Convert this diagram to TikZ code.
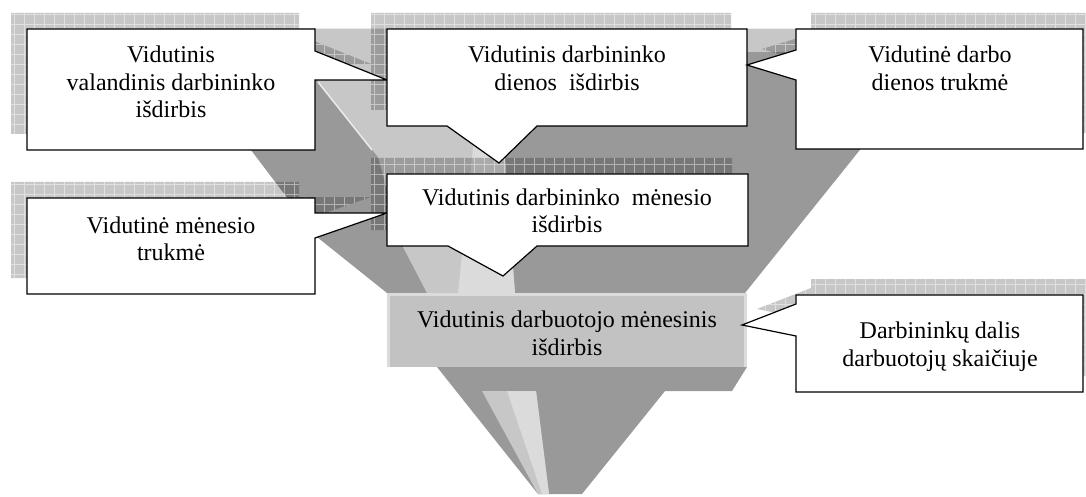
\documentclass[tikz,border=0pt]{standalone}
\usepackage{fontspec}
\setmainfont{Liberation Serif}
\begin{document}
\begin{tikzpicture}[x=1pt,y=-1pt,
  dk/.style={fill=black!40},
  lt/.style={fill=black!22},
  ltb/.style={fill=black!14},
  callout/.style={fill=white,draw=black,line width=1.2pt,line join=miter},
  label/.style={font=\fontsize{24}{27.5}\selectfont,align=center,anchor=base,inner sep=0pt}
]
\useasboundingbox (0,0) rectangle (1086,497);

% callout outlines (box with pointer)
\def\pathA{(27,29) -- (315,29) -- (315,51) -- (387,80) -- (315,80) -- (315,150) -- (27,150) -- cycle}
\def\pathB{(387,29) -- (747,29) -- (747,126) -- (537,126) -- (499,163) -- (447,126) -- (387,126) -- cycle}
\def\pathC{(796,29) -- (1083,29) -- (1083,149) -- (796,149) -- (796,80) -- (747,65) -- (796,50) -- cycle}
\def\pathD{(27,198) -- (315,198) -- (315,213) -- (387,213) -- (315,238) -- (315,294) -- (27,294) -- cycle}
\def\pathE{(387,174) -- (748,174) -- (748,246) -- (537,246) -- (503,276) -- (448,246) -- (387,246) -- cycle}
\def\pathG{(796,295) -- (1083,295) -- (1083,392) -- (796,392) -- (796,336) -- (742,325) -- (796,304) -- cycle}

% hatched drop shadow of a callout
\newcommand\gridshadow[2]{%
  \begin{scope}[shift={#1}]
    \clip #2;
    \fill[black,opacity=0.22] (-100,-100) rectangle (1200,600);
    \draw[white,opacity=0.45,line width=0.7pt,step=10pt] (-100,-100) grid (1200,600);
  \end{scope}}

% funnel body
\fill[dk] (159,29) -- (957,29) -- (745,293) -- (387,293) -- (317,237) -- cycle;
\fill[dk] (437,367) -- (747,367) -- (732,391) -- (665,391) -- (582,494) -- (538,494) -- cycle;
% top rim
\fill[lt] (159,29) -- (957,29) -- (940,52) -- (176,52) -- cycle;
% lit front facet
\fill[lt] (276,29) -- (491,29) -- (503,165) -- (515,293) -- (427,293) -- (403,247) -- (378,157) -- cycle;
\fill[ltb] (478,100) -- (501,100) -- (515,293) -- (458,293) -- cycle;
\draw[black!8,line width=1.5pt] (318,82) -- (372,150);
\fill[lt] (482,391) -- (536,391) -- (549,494) -- (538,494) -- cycle;
\fill[ltb] (507,391) -- (536,391) -- (549,494) -- (542,494) -- cycle;

% shadows
\gridshadow{(-16,-16)}{\pathA}
\gridshadow{(-16,-16)}{\pathB}
\gridshadow{(15,-16)}{\pathC}
\gridshadow{(-16,-16)}{\pathD}
\gridshadow{(-16,-16)}{\pathE}
\gridshadow{(15,-16)}{\pathG}

% central bar
\fill[black!24] (387,293) rectangle (747,367);
\draw[black!14,line width=3pt] (388.5,367) -- (388.5,294.5) -- (745.5,294.5) -- (745.5,367);

% callouts
\path[callout] \pathA;
\path[callout] \pathB;
\path[callout] \pathC;
\path[callout] \pathD;
\path[callout] \pathE;
\path[callout] \pathG;

% texts (anchored at the baseline of the last line)
\node[label] (tA) at (171,118) {Vidutinis\\valandinis darbininko\\išdirbis};
\node[label] (tB) at (567,90.5) {Vidutinis darbininko\\dienos\ \ išdirbis};
\node[label] (tC) at (940,90.5) {Vidutinė darbo\\dienos trukmė};
\node[label] (tD) at (171,260.5) {Vidutinė mėnesio\\trukmė};
\node[label] (tE) at (567,232.5) {Vidutinis darbininko\ \ mėnesio\\išdirbis};
\node[label] (tF) at (567,355) {Vidutinis darbuotojo mėnesinis\\išdirbis};
\node[label] (tG) at (940,366) {Darbininkų dalis\\darbuotojų skaičiuje};
\end{tikzpicture}
\end{document}
